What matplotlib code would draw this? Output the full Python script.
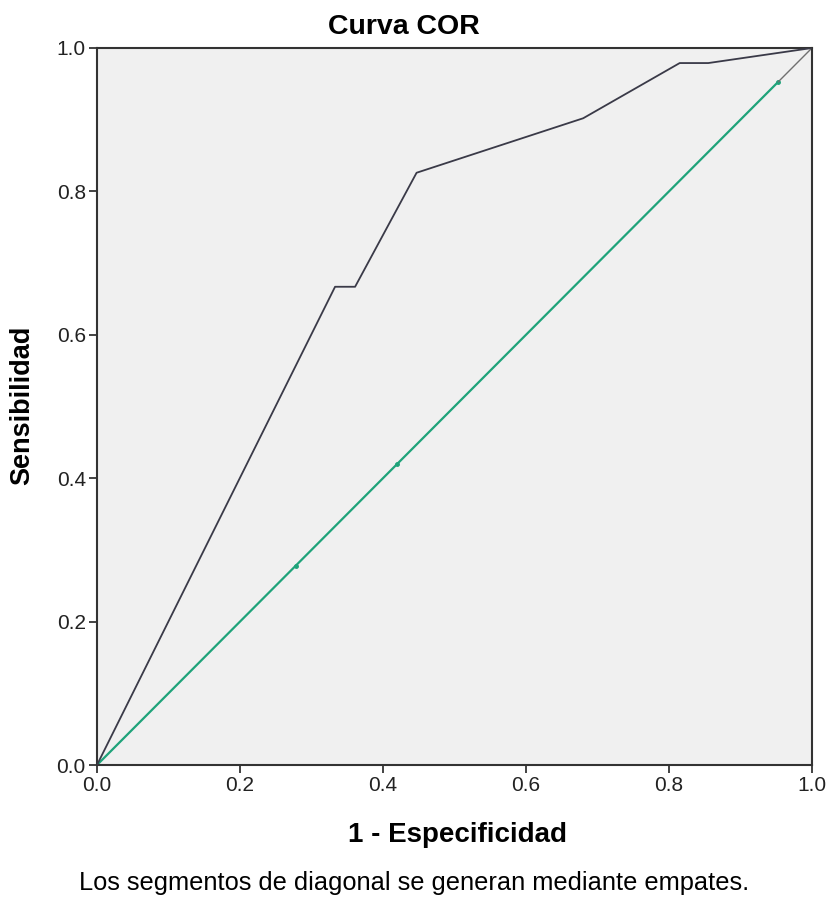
import matplotlib
matplotlib.use("Agg")
import matplotlib.pyplot as plt

plt.rcParams['font.family'] = ['Liberation Sans', 'DejaVu Sans']

fpr = [0.0, 0.333, 0.361, 0.447, 0.680, 0.815, 0.855, 1.0]
tpr = [0.0, 0.667, 0.667, 0.826, 0.902, 0.979, 0.979, 1.0]
diag = [0.0, 0.278, 0.420, 0.953]
diag_tail = [0.953, 1.0]
ticks = [0.0, 0.2, 0.4, 0.6, 0.8, 1.0]
tick_labels = ["0.0", "0.2", "0.4", "0.6", "0.8", "1.0"]

fig = plt.figure(figsize=(8.31, 9.09), dpi=100)
fig.patch.set_facecolor("white")
ax = fig.add_axes([0.1167, 0.1584, 0.8604, 0.7888])
ax.set_facecolor("#f0f0f0")

ax.plot(diag, diag, color="#1fa37a", lw=1.6, marker="o", ms=2.5, zorder=2)
ax.plot(diag_tail, diag_tail, color="#707070", lw=1.0, zorder=2)
ax.plot(fpr, tpr, color="#3a3a48", lw=1.3, zorder=3)

ax.set_xlim(0, 1)
ax.set_ylim(0, 1)
ax.set_xticks(ticks)
ax.set_xticklabels(tick_labels)
ax.set_yticks(ticks)
ax.set_yticklabels(tick_labels)
ax.tick_params(direction="out", length=6, width=1.2, labelsize=15, colors="#222222", pad=2)
for s in ax.spines.values():
    s.set_color("#333333")
    s.set_linewidth(1.5)

fig.text(404 / 831, 1 - 27 / 909, "Curva COR", ha="center", va="center",
         fontsize=20.5, fontweight="bold")
fig.text(458 / 831, 1 - 835 / 909, "1 - Especificidad", ha="center", va="center",
         fontsize=20, fontweight="bold")
fig.text(22 / 831, 1 - 405 / 909, "Sensibilidad", ha="center", va="center",
         rotation=90, fontsize=19.5, fontweight="bold")
fig.text(414 / 831, 1 - 883 / 909, "Los segmentos de diagonal se generan mediante empates.",
         ha="center", va="center", fontsize=18.3)

fig.savefig("out.png", dpi=100)
